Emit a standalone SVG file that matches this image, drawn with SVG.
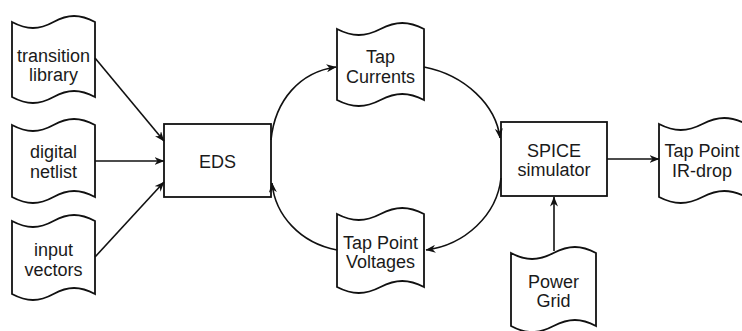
<svg xmlns="http://www.w3.org/2000/svg" width="742" height="331" viewBox="0 0 742 331">
<defs>
<style>
.doc,.box{fill:#fff;stroke:#111;stroke-width:1.8}
.t{font-family:"Liberation Sans",Arial,sans-serif;font-size:18px;fill:#1a1a1a;text-anchor:middle}
.c{fill:none;stroke:#111;stroke-width:1.6;marker-end:url(#ah)}
</style>
<marker id="ah" viewBox="0 0 10 8" refX="9.5" refY="4" markerWidth="10" markerHeight="8" markerUnits="userSpaceOnUse" orient="auto">
<path d="M0,0 L10,4 L0,8 L3,4 Z" fill="#111"/>
</marker>
</defs>
<rect width="742" height="331" fill="#fff"/>
<g id="transition-library">
<path class="doc" d="M12,22 C27,30 39,30 53.5,22 C68,14 80,14 95,22 L95,97 C80,89 68,89 53.5,97 C39,105 27,105 12,97 Z"/>
<text class="t" x="53.5" y="62">transition</text>
<text class="t" x="53.5" y="81">library</text>
</g>
<g id="digital-netlist">
<path class="doc" d="M12,125 C27,133 39,133 53.5,125 C68,117 80,117 95,125 L95,197 C80,189 68,189 53.5,197 C39,205 27,205 12,197 Z"/>
<text class="t" x="53.5" y="158">digital</text>
<text class="t" x="53.5" y="178">netlist</text>
</g>
<g id="input-vectors">
<path class="doc" d="M12,221 C27,229 39,229 53.5,221 C68,213 80,213 95,221 L95,294 C80,286 68,286 53.5,294 C39,302 27,302 12,294 Z"/>
<text class="t" x="53.5" y="256">input</text>
<text class="t" x="53.5" y="276">vectors</text>
</g>
<g id="eds">
<rect class="box" x="164" y="124" width="107" height="73"/>
<text class="t" x="217.5" y="168">EDS</text>
</g>
<g id="tap-currents">
<path class="doc" d="M337,29 C352.5,37 365,37 380.5,29 C396,21 408.5,21 424,29 L424,100 C408.5,92 396,92 380.5,100 C365,108 352.5,108 337,100 Z"/>
<text class="t" x="380.5" y="63">Tap</text>
<text class="t" x="380.5" y="83">Currents</text>
</g>
<g id="tap-point-voltages">
<path class="doc" d="M337,214 C352.5,222 365,222 380.5,214 C396,206 408.5,206 424,214 L424,287 C408.5,279 396,279 380.5,287 C365,295 352.5,295 337,287 Z"/>
<text class="t" x="380.5" y="249">Tap Point</text>
<text class="t" x="380.5" y="268">Voltages</text>
</g>
<g id="spice-simulator">
<rect class="box" x="501" y="122" width="106" height="74"/>
<text class="t" x="554" y="157">SPICE</text>
<text class="t" x="554" y="176">simulator</text>
</g>
<g id="tap-point-ir-drop">
<path class="doc" d="M659,124 C674.5,132 687,132 702.5,124 C718,116 730.5,116 746,124 L746,197 C730.5,189 718,189 702.5,197 C687,205 674.5,205 659,197 Z"/>
<text class="t" x="702" y="157">Tap Point</text>
<text class="t" x="702" y="177">IR-drop</text>
</g>
<g id="power-grid">
<path class="doc" d="M511,253 C526,261 538,261 553.5,253 C569,245 581,245 596,253 L596,326 C581,318 569,318 553.5,326 C538,334 526,334 511,326 Z"/>
<text class="t" x="553.5" y="288">Power</text>
<text class="t" x="553.5" y="307">Grid</text>
</g>
<g id="connectors">
<path class="c" d="M95,58 L164,141"/>
<path class="c" d="M95,161 L164,161"/>
<path class="c" d="M95,257 L164,182"/>
<path class="c" d="M271,140 C275,100 300,72 336,67"/>
<path class="c" d="M424,67 C465,75 496,105 500,138"/>
<path class="c" d="M501,178 C497,215 465,245 426,250"/>
<path class="c" d="M337,250 C300,243 275,215 272,183"/>
<path class="c" d="M607,159 L659,159"/>
<path class="c" d="M554,251 L554,197"/>
</g>
</svg>
